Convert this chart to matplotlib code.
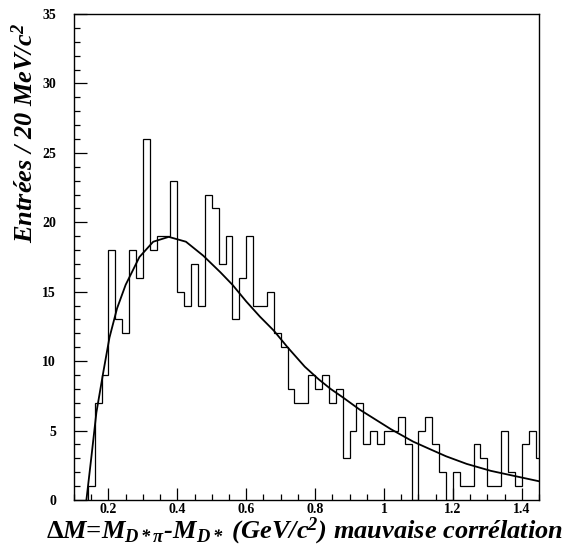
import numpy as np
import matplotlib
matplotlib.use('Agg')
import matplotlib.pyplot as plt
from matplotlib.ticker import MultipleLocator, FuncFormatter

# histogram: 20 MeV bins starting at 0.14 GeV
bin_start = 0.14
bin_width = 0.02
counts = [1, 7, 9, 18, 13, 12, 18, 16, 26, 18,
          19, 19, 23, 15, 14, 17, 14, 22, 21, 17,
          19, 13, 16, 19, 14, 14, 15, 12, 11, 8,
          7, 7, 9, 8, 9, 7, 8, 3, 5, 7,
          4, 5, 4, 5, 5, 6, 4, 0, 5, 6,
          4, 2, 0, 2, 1, 1, 4, 3, 1, 1,
          5, 2, 1, 4, 5, 3]

# fitted curve
fit_x = [0.136, 0.15, 0.165, 0.185, 0.203, 0.225, 0.25, 0.29, 0.33, 0.375,
         0.425, 0.475, 0.525, 0.56, 0.60, 0.64, 0.68, 0.72, 0.77, 0.81,
         0.845, 0.88, 0.93, 0.975, 1.02, 1.085, 1.13, 1.18, 1.24, 1.31,
         1.375, 1.45]
fit_y = [0.0, 3.0, 6.3, 9.2, 11.7, 13.8, 15.5, 17.5, 18.6, 18.95,
         18.6, 17.6, 16.4, 15.5, 14.3, 13.2, 12.2, 11.0, 9.6, 8.7,
         8.0, 7.4, 6.5, 5.8, 5.1, 4.2, 3.7, 3.15, 2.6, 2.1,
         1.75, 1.35]

edges = bin_start + bin_width * np.arange(len(counts) + 1)

plt.rcParams['font.family'] = 'Liberation Serif'
plt.rcParams['mathtext.fontset'] = 'custom'
plt.rcParams['mathtext.rm'] = 'Liberation Serif:bold:italic'
plt.rcParams['mathtext.it'] = 'Liberation Serif:bold:italic'
plt.rcParams['mathtext.bf'] = 'Liberation Serif:bold'

fig = plt.figure(figsize=(5.69, 5.47), dpi=100)
ax = fig.add_axes([74/569, 1-500/547, (539-74)/569, (500-14)/547])

ax.stairs(counts, edges, baseline=0, color='black', linewidth=0.9)
ax.plot(fit_x, fit_y, color='black', linewidth=1.3)

ax.set_xlim(0.1, 1.45)
ax.set_ylim(0, 35)
ax.xaxis.set_major_locator(MultipleLocator(0.2))
ax.xaxis.set_minor_locator(MultipleLocator(0.05))
ax.yaxis.set_major_locator(MultipleLocator(5))
ax.yaxis.set_minor_locator(MultipleLocator(1))
ax.xaxis.set_major_formatter(FuncFormatter(lambda v, p: '%g' % round(v, 2)))
ax.tick_params(which='both', direction='in', top=False, right=False,
               labelsize=10, width=0.9)
ax.tick_params(which='major', length=9)
ax.tick_params(which='minor', length=4.5)
ax.tick_params(axis='y', which='major', pad=13)
ax.tick_params(axis='x', which='major', pad=2)
for lab in ax.get_xticklabels() + ax.get_yticklabels():
    lab.set_fontweight('bold')
for s in ax.spines.values():
    s.set_linewidth(1.0)

fig.text(25/569, 1-133/547, 'Entrées / 20 MeV/c$^2$', fontsize=19,
         fontweight='bold', fontstyle='italic', rotation=90,
         ha='center', va='center')
fig.text(305/569, 1-531/547,
         r'$\mathbf{\Delta}M$=M$_{D*\pi}$-M$_{D*}$ (GeV/c$^2$) mauvaise corrélation',
         fontsize=19, fontweight='bold', fontstyle='italic',
         ha='center', va='center')

fig.savefig('out.png', dpi=100)
